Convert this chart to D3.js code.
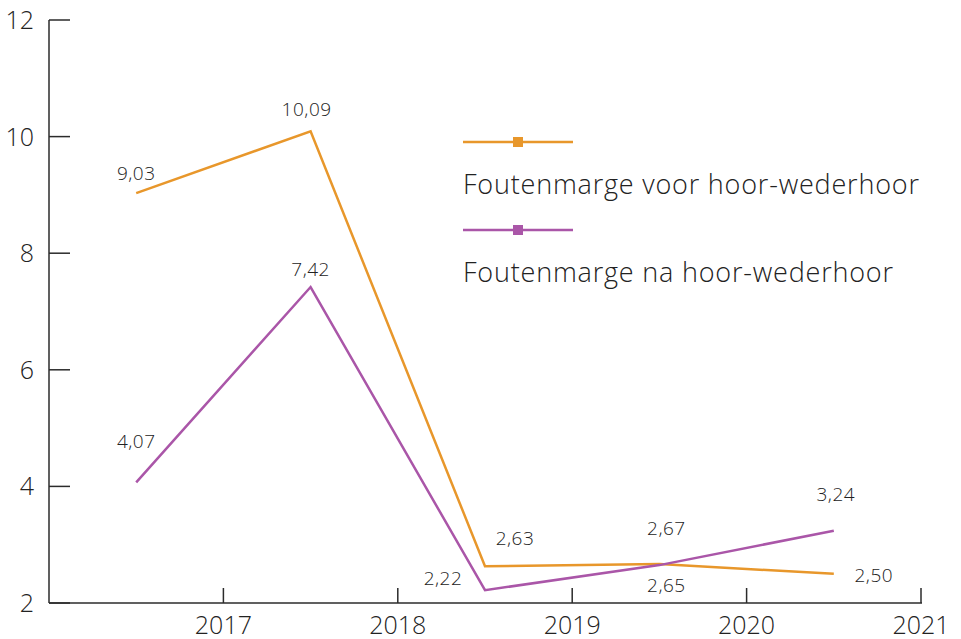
<!DOCTYPE html>
<html>
<head>
<meta charset="utf-8">
<script src="https://cdn.jsdelivr.net/npm/d3@7"></script>
<style>
  body { margin: 0; background: #fff; }
  text { font-family: "Open Sans", sans-serif; font-weight: 300; fill: #222; }
</style>
</head>
<body>
<div id="chart"></div>
<script>
// data
const years = ["2017", "2018", "2019", "2020", "2021"];
const voorValues = [9.03, 10.09, 2.63, 2.67, 2.50];
const naValues = [4.07, 7.42, 2.22, 2.65, 3.24];
const seriesNames = ["Foutenmarge voor hoor-wederhoor", "Foutenmarge na hoor-wederhoor"];
const yTicks = [2, 4, 6, 8, 10, 12];

// label offsets (style, not data)
const voorLabelPos = [[0, -20], [-4, -22], [30, -28], [7, -36], [40, 1]];
const naLabelPos = [[0, -41], [0, -18], [-42, -12], [7, 20], [2, -37]];

const width = 961, height = 639;
const colors = ["#e8972b", "#aa56a8"];
const fmt = v => d3.format(".2f")(v).replace(".", ",");

const svg = d3.select("#chart").append("svg")
    .attr("width", width)
    .attr("height", height);

const x = d3.scaleBand()
    .domain(years)
    .range([49, 921]);

const y = d3.scaleLinear()
    .domain([2, 12])
    .range([603, 20]);

// axes
svg.append("line")
    .attr("x1", 49).attr("x2", 49)
    .attr("y1", y(12)).attr("y2", y(2))
    .attr("stroke", "#2b2b2b").attr("stroke-width", 1.5);
svg.append("line")
    .attr("x1", 49).attr("x2", 922)
    .attr("y1", y(2)).attr("y2", y(2))
    .attr("stroke", "#2b2b2b").attr("stroke-width", 1.5);

svg.selectAll(".ytick")
    .data(yTicks)
    .enter().append("line")
    .attr("x1", 49).attr("x2", 70)
    .attr("y1", d => y(d)).attr("y2", d => y(d))
    .attr("stroke", "#2b2b2b").attr("stroke-width", 1.5);

svg.selectAll(".ylabel")
    .data(yTicks)
    .enter().append("text")
    .attr("x", 34)
    .attr("y", d => y(d) + 9)
    .attr("text-anchor", "end")
    .style("font-size", "25px")
    .text(d => d);

svg.selectAll(".xtick")
    .data(years)
    .enter().append("line")
    .attr("x1", d => x(d) + x.bandwidth()).attr("x2", d => x(d) + x.bandwidth())
    .attr("y1", y(2) - 15).attr("y2", y(2))
    .attr("stroke", "#2b2b2b").attr("stroke-width", 1.5);

svg.selectAll(".xlabel")
    .data(years)
    .enter().append("text")
    .attr("x", d => x(d) + x.bandwidth())
    .attr("y", 634)
    .attr("text-anchor", "middle")
    .style("font-size", "25px")
    .text(d => d);

// lines
const line = d3.line()
    .x((d, i) => x(years[i]) + x.bandwidth() / 2)
    .y(d => y(d));

[voorValues, naValues].forEach((vals, s) => {
    svg.append("path")
        .datum(vals)
        .attr("d", line)
        .attr("fill", "none")
        .attr("stroke", colors[s])
        .attr("stroke-width", 2.5)
        .attr("stroke-linejoin", "miter");
});

// value labels
[[voorValues, voorLabelPos], [naValues, naLabelPos]].forEach(([vals, pos]) => {
    svg.selectAll(null)
        .data(vals)
        .enter().append("text")
        .attr("x", (d, i) => x(years[i]) + x.bandwidth() / 2 + pos[i][0])
        .attr("y", (d, i) => y(d) + pos[i][1] + 7)
        .attr("text-anchor", "middle")
        .style("font-size", "19px")
        .style("letter-spacing", "0.5px")
        .text(d => fmt(d));
});

// legend
const legendY = [142, 230];
seriesNames.forEach((name, s) => {
    const g = svg.append("g").attr("transform", `translate(463,${legendY[s]})`);
    g.append("line")
        .attr("x1", 0).attr("x2", 110)
        .attr("stroke", colors[s]).attr("stroke-width", 2.5);
    g.append("rect")
        .attr("x", 50).attr("y", -5)
        .attr("width", 10).attr("height", 10)
        .attr("fill", colors[s]);
    g.append("text")
        .attr("x", 0).attr("y", 52)
        .style("font-size", "27px")
        .style("letter-spacing", "0.8px")
        .text(name);
});
</script>
</body>
</html>
